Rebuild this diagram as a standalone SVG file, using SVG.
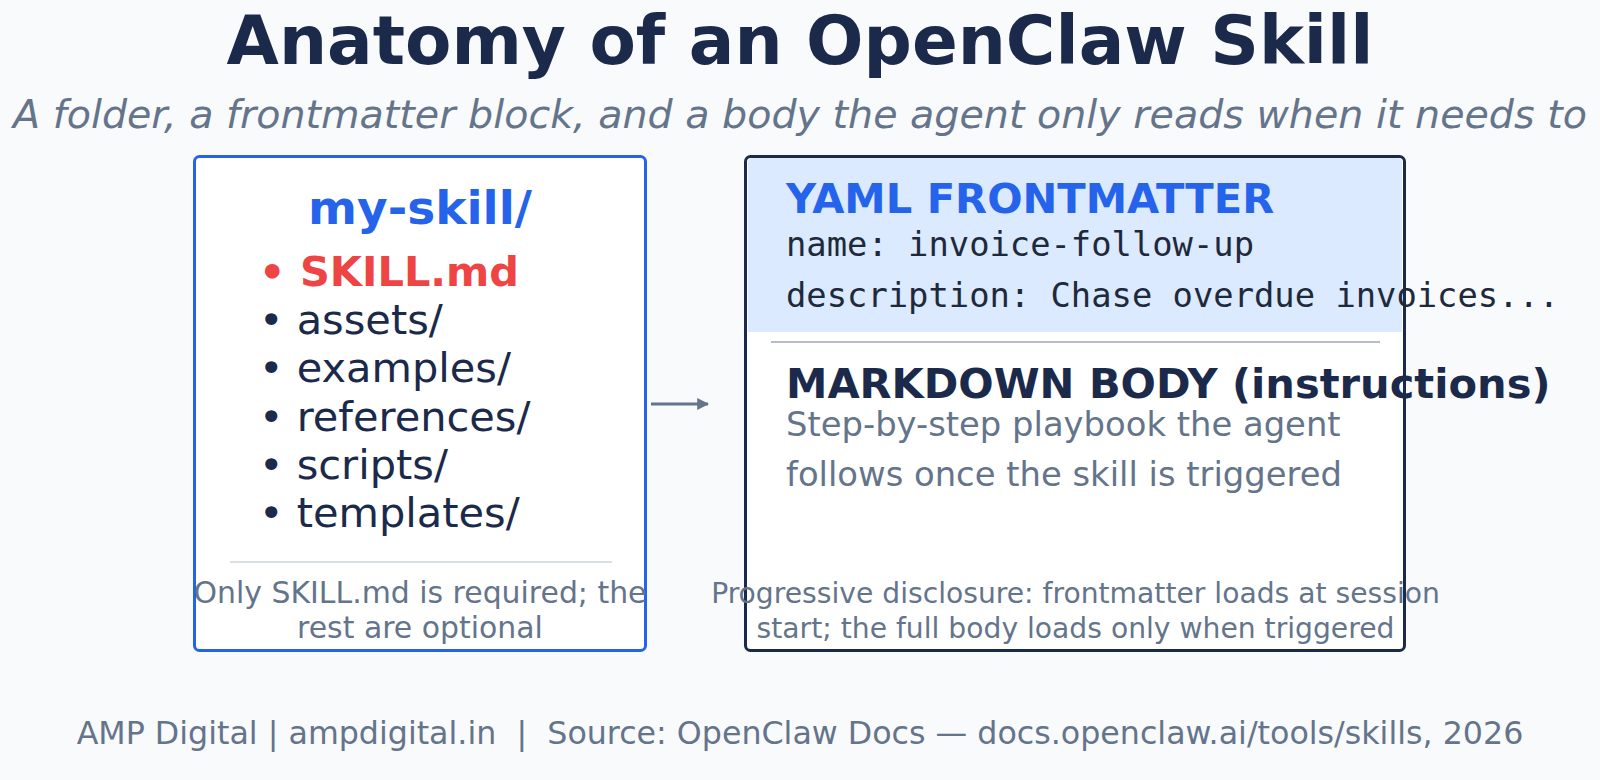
<svg xmlns="http://www.w3.org/2000/svg" width="1600" height="780" viewBox="0 0 1600 780">
  <defs>
    <marker id="arrow" viewBox="0 0 10 10" refX="9" refY="5" markerWidth="4" markerHeight="4" orient="auto" markerUnits="strokeWidth">
      <path d="M0,0 L10,5 L0,10 z" fill="#64748b"/>
    </marker>
    <style>
      text { font-family: "DejaVu Sans", "Liberation Sans", sans-serif; }
      .title { font-size: 67.6px; font-weight: bold; fill: #1b2a4a; }
      .subtitle { font-size: 39.6px; font-style: italic; fill: #64748b; }
      .box { fill: #ffffff; stroke-width: 3; }
      .folder { font-size: 47px; font-weight: bold; fill: #2563eb; }
      .req { font-size: 41.5px; font-weight: bold; fill: #ef4444; }
      .item { font-size: 41.5px; fill: #1b2a4a; }
      .capl { font-size: 29.9px; fill: #64748b; }
      .capr { font-size: 28.2px; fill: #64748b; }
      .head { font-size: 41.6px; font-weight: bold; }
      .mono { font-family: "DejaVu Sans Mono", "Liberation Mono", monospace; font-size: 33.8px; fill: #1e293b; }
      .body { font-size: 33.8px; fill: #64748b; }
      .footer { font-size: 31.7px; fill: #64748b; }
    </style>
  </defs>
  <rect x="0" y="0" width="1600" height="780" fill="#f9fafb"/>

  <text class="title" x="800" y="64" text-anchor="middle">Anatomy of an OpenClaw Skill</text>
  <text class="subtitle" x="800" y="128" text-anchor="middle">A folder, a frontmatter block, and a body the agent only reads when it needs to</text>

  <g id="folder-node">
    <rect class="box" x="194.5" y="156.5" width="451" height="494" rx="5" stroke="#2563eb"/>
    <text class="folder" x="420" y="224" text-anchor="middle">my-skill/</text>
    <text class="req" x="259" y="286">• SKILL.md</text>
    <text class="item" x="259" y="334">• assets/</text>
    <text class="item" x="259" y="382">• examples/</text>
    <text class="item" x="259" y="431">• references/</text>
    <text class="item" x="259" y="479">• scripts/</text>
    <text class="item" x="259" y="527">• templates/</text>
    <line x1="230" y1="562" x2="612" y2="562" stroke="#cbd5e1" stroke-width="1.5"/>
    <text class="capl" x="420" y="603" text-anchor="middle">Only SKILL.md is required; the</text>
    <text class="capl" x="420" y="638" text-anchor="middle">rest are optional</text>
  </g>

  <g id="skillmd-node">
    <rect class="box" x="745.5" y="156.5" width="659" height="494" rx="5" stroke="#1b2a4a"/>
    <path d="M748,163 Q748,158 753,158 L1397,158 Q1402,158 1402,163 L1402,332 L748,332 Z" fill="#dbeafe"/>
    <text class="head" x="786" y="213" fill="#2563eb">YAML FRONTMATTER</text>
    <text class="mono" x="786" y="256">name: invoice-follow-up</text>
    <text class="mono" x="786" y="307">description: Chase overdue invoices...</text>
    <line x1="771" y1="342" x2="1380" y2="342" stroke="#a0a8b4" stroke-width="1.5"/>
    <text class="head" x="786" y="398" fill="#1b2a4a">MARKDOWN BODY (instructions)</text>
    <text class="body" x="786" y="436">Step-by-step playbook the agent</text>
    <text class="body" x="786" y="486">follows once the skill is triggered</text>
    <text class="capr" x="1075.5" y="603" text-anchor="middle">Progressive disclosure: frontmatter loads at session</text>
    <text class="capr" x="1075.5" y="638" text-anchor="middle">start; the full body loads only when triggered</text>
  </g>

  <g id="connectors">
    <line x1="651" y1="404" x2="708" y2="404" stroke="#64748b" stroke-width="3" marker-end="url(#arrow)"/>
  </g>

  <text class="footer" x="800" y="744" text-anchor="middle" xml:space="preserve">AMP Digital | ampdigital.in  |  Source: OpenClaw Docs — docs.openclaw.ai/tools/skills, 2026</text>
</svg>
